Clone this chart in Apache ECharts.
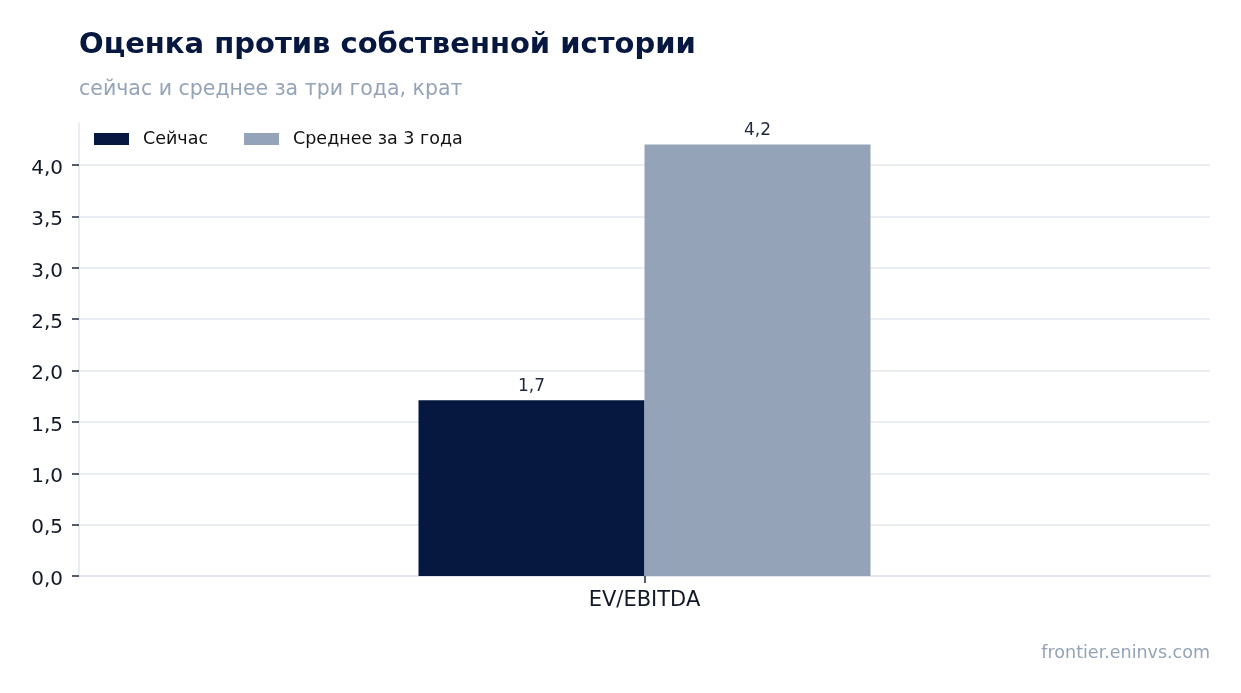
<!DOCTYPE html>
<html>
<head>
<meta charset="utf-8">
<script src="https://cdn.jsdelivr.net/npm/echarts@6/dist/echarts.min.js"></script>
<style>
html,body{margin:0;padding:0;background:#fff;}
#main{width:1241px;height:693px;}
</style>
</head>
<body>
<div id="main"></div>
<script>
// данные графика
var categories = ['EV/EBITDA'];
var seriesNames = ['Сейчас', 'Среднее за 3 года'];
var nowValues = [1.71];
var avgValues = [4.2];
var yTicks = [0, 0.5, 1.0, 1.5, 2.0, 2.5, 3.0, 3.5, 4.0];

var navy = '#061740';
var slate = '#94a3b8';
var font = 'DejaVu Sans';

function fmt(v, d) {
	return v.toFixed(d).replace('.', ',');
}

var myChart = echarts.init(document.getElementById('main'));

var barLabel = {
	show: true, position: 'top', distance: 5,
	fontFamily: font, fontSize: 17, color: '#1e293b',
	formatter: function (p) { return fmt(p.value, 1); }
};

var option = {
	animation: false,
	textStyle: {fontFamily: font},
	title: [
		{
			text: 'Оценка против собственной истории',
			left: 79, top: 31, padding: 0,
			textStyle: {fontFamily: font, fontSize: 29, fontWeight: 'bold', color: navy}
		},
		{
			text: 'сейчас и среднее за три года, крат',
			left: 79, top: 79, padding: 0,
			textStyle: {fontFamily: font, fontSize: 20.5, fontWeight: 'normal', color: slate}
		},
		{
			text: 'frontier.eninvs.com',
			right: 31, top: 644, padding: 0,
			textStyle: {fontFamily: font, fontSize: 17.5, fontWeight: 'normal', color: slate}
		}
	],
	legend: {
		left: 94, top: 130, padding: 0,
		itemWidth: 35, itemHeight: 12, itemGap: 36,
		icon: 'rect',
		textStyle: {fontFamily: font, fontSize: 17.5, color: '#111', padding: [0, 0, 0, 9]},
		data: seriesNames
	},
	grid: {left: 79, right: 31, top: 123, bottom: 117, containLabel: false},
	xAxis: {
		type: 'category',
		data: categories,
		axisLine: {lineStyle: {color: '#e2e8f0', width: 1.5}},
		axisTick: {show: true, alignWithLabel: true, length: 7, lineStyle: {color: '#1e293b', width: 1.5}},
		axisLabel: {fontFamily: font, fontSize: 21, color: '#111827', margin: 14}
	},
	yAxis: {
		type: 'value',
		min: 0, max: 4.41,
		axisLine: {show: true, lineStyle: {color: '#e2e8f0', width: 1.5}},
		axisTick: {show: true, length: 7, customValues: yTicks, lineStyle: {color: '#1e293b', width: 1.5}},
		axisLabel: {
			margin: 16,
			customValues: yTicks,
			formatter: function (v) { return '{t|' + fmt(v, 1) + '}'; },
			rich: {
				t: {fontFamily: font, fontSize: 20, color: '#111827', padding: [7, 0, 0, 0]}
			}
		},
		splitLine: {show: true, lineStyle: {color: '#e2e8f0', width: 1.5}}
	},
	series: [
		{
			name: seriesNames[0],
			type: 'bar',
			data: nowValues,
			barWidth: 226,
			barGap: '0%',
			itemStyle: {color: navy},
			label: barLabel
		},
		{
			name: seriesNames[1],
			type: 'bar',
			data: avgValues,
			barWidth: 226,
			barGap: '0%',
			itemStyle: {color: slate},
			label: barLabel
		}
	]
};

myChart.setOption(option);
</script>
</body>
</html>
